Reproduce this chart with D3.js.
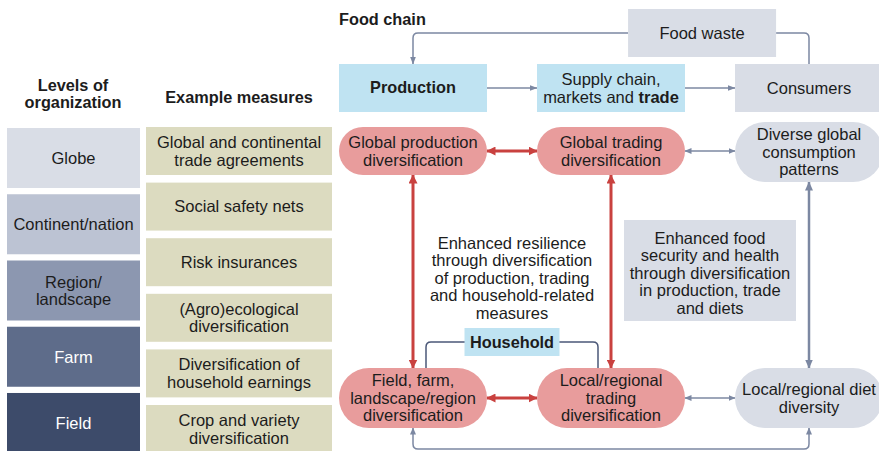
<!DOCTYPE html>
<html>
<head>
<meta charset="utf-8">
<script src="https://cdn.jsdelivr.net/npm/d3@7"></script>
<style>
  body { margin: 0; background: #fff; }
  svg { display: block; font-family: "Liberation Sans", Arial, Helvetica, sans-serif; }
</style>
</head>
<body>
<div id="chart"></div>
<script>
// Levels of organization (lines per box) and example measures
const levels = [["Globe"], ["Continent/nation"], ["Region/", "landscape"], ["Farm"], ["Field"]];
const measures = [
    ["Global and continental", "trade agreements"],
    ["Social safety nets"],
    ["Risk insurances"],
    ["(Agro)ecological", "diversification"],
    ["Diversification of", "household earnings"],
    ["Crop and variety", "diversification"]
];

// Food chain nodes: column index, row name, kind (*...* = bold)
const nodes = [
    { id: "waste", lines: ["Food waste"], col: 1.46, row: "waste", kind: "gray" },
    { id: "production", lines: ["*Production*"], col: 0, row: "chain", kind: "blue" },
    { id: "supply", lines: ["Supply chain,", "markets and *trade*"], col: 1, row: "chain", kind: "blue" },
    { id: "consumers", lines: ["Consumers"], col: 2, row: "chain", kind: "gray" },
    { id: "globalProd", lines: ["Global production", "diversification"], col: 0, row: "global", kind: "pink" },
    { id: "globalTrade", lines: ["Global trading", "diversification"], col: 1, row: "global", kind: "pink" },
    { id: "diverse", lines: ["Diverse global", "consumption", "patterns"], col: 2, row: "global", kind: "grayPill" },
    { id: "fieldFarm", lines: ["Field, farm,", "landscape/region", "diversification"], col: 0, row: "local", kind: "pink" },
    { id: "localTrade", lines: ["Local/regional", "trading", "diversification"], col: 1, row: "local", kind: "pink" },
    { id: "diet", lines: ["Local/regional diet", "diversity"], col: 2, row: "local", kind: "grayPill" }
];

// Connections between nodes
const links = [
    { source: "production", target: "supply", type: "flow" },
    { source: "supply", target: "consumers", type: "flow" },
    { source: "globalProd", target: "globalTrade", type: "red" },
    { source: "globalTrade", target: "diverse", type: "thin" },
    { source: "fieldFarm", target: "localTrade", type: "red" },
    { source: "localTrade", target: "diet", type: "thin" },
    { source: "globalProd", target: "fieldFarm", type: "red" },
    { source: "globalTrade", target: "localTrade", type: "red" },
    { source: "diverse", target: "diet", type: "grayThick" }
];

const resilienceText = ["Enhanced resilience", "through diversification", "of production, trading",
    "and household-related", "measures"];
const securityText = ["Enhanced food", "security and health", "through diversification",
    "in production, trade", "and diets"];

const width = 879, height = 451;
const svg = d3.select('#chart').append('svg')
    .attr('width', width)
    .attr('height', height);

const ink = '#1c1c1c';
const fs = 16.5, fsBold = 16.3;
const fills = { blue: '#bfe3f2', gray: '#d9dde6', grayPill: '#d9dde6', pink: '#e89c9c' };
const levelColor = d3.scaleOrdinal()
    .domain(levels.map(d => d.join('')))
    .range(['#d9dde6', '#bcc3d3', '#8c97b0', '#5e6c8a', '#3d4b6a']);
const arrowColor = { red: '#c9413f', thin: '#7c88a2', flow: '#7c88a2', grayThick: '#7c88a2' };
const arrowWidth = { red: 3, thin: 1.5, flow: 1.5, grayThick: 2.5 };

// Scales
const yLevel = d3.scaleBand().domain(d3.range(levels.length)).range([128, 453]).paddingInner(0.094);
const yMeasure = d3.scaleBand().domain(d3.range(measures.length)).range([127, 453]).paddingInner(0.137);
const xCol = d3.scaleLinear().domain([0, 1]).range([339, 537]);
const colW = 148;
const rowY = d3.scaleOrdinal().domain(['waste', 'chain', 'global', 'local']).range([33, 88, 151, 398]);
const rowH = d3.scaleOrdinal().domain(['waste', 'chain', 'global', 'local']).range([48, 48, 48, 60]);

// multi-line text, centred on (cx, cy); *word* is bold
function addText(g, lines, cx, cy, opts = {}) {
    const lh = opts.lh || 17.5;
    const t = g.append('text')
        .attr('text-anchor', opts.anchor || 'middle')
        .attr('font-size', opts.size || fs)
        .attr('font-weight', opts.bold ? 'bold' : null)
        .attr('fill', opts.color || ink);
    lines.forEach((ln, i) => {
        const row = t.append('tspan')
            .attr('x', cx)
            .attr('y', cy + (i - (lines.length - 1) / 2) * lh)
            .attr('dy', '0.35em');
        ln.split('*').forEach((seg, j) => {
            if (seg) row.append('tspan').attr('font-weight', j % 2 ? 'bold' : null).text(seg);
        });
    });
}

// Arrow markers
const defs = svg.append('defs');
const markerSpec = [
    { id: 'red', color: arrowColor.red, w: 9, h: 9 },
    { id: 'thin', color: arrowColor.thin, w: 7, h: 6 },
    { id: 'flow', color: arrowColor.flow, w: 8, h: 6 },
    { id: 'grayThick', color: arrowColor.grayThick, w: 9, h: 8 }
];
markerSpec.forEach(m => {
    defs.append('marker')
        .attr('id', 'arrow-' + m.id)
        .attr('markerUnits', 'userSpaceOnUse')
        .attr('viewBox', `0 0 ${m.w} ${m.h}`)
        .attr('refX', m.w - 0.5)
        .attr('refY', m.h / 2)
        .attr('markerWidth', m.w)
        .attr('markerHeight', m.h)
        .attr('orient', 'auto-start-reverse')
        .append('path')
        .attr('d', `M0,0L${m.w},${m.h / 2}L0,${m.h}Z`)
        .attr('fill', m.color);
});

// ---- left side: levels and measures ----
const left = svg.append('g');
addText(left, ['Levels of', 'organization'], 73, 93.5, { bold: true, size: fsBold, lh: 17 });
addText(left, ['Example measures'], 239, 97, { bold: true, size: fsBold });

levels.forEach((lv, i) => {
    left.append('rect')
        .attr('x', 7).attr('y', yLevel(i))
        .attr('width', 133).attr('height', yLevel.bandwidth())
        .attr('fill', levelColor(lv.join('')));
    addText(left, lv, 73.5, yLevel(i) + yLevel.bandwidth() / 2,
        { color: i >= 3 ? '#ffffff' : ink });
});

measures.forEach((m, i) => {
    left.append('rect')
        .attr('x', 146).attr('y', yMeasure(i))
        .attr('width', 186).attr('height', yMeasure.bandwidth())
        .attr('fill', '#dcdbc0');
    addText(left, m, 239, yMeasure(i) + yMeasure.bandwidth() / 2);
});

// ---- right side: food chain ----
const right = svg.append('g');
addText(right, ['Food chain'], 339, 19, { bold: true, size: fsBold, anchor: 'start' });

// node geometry
nodes.forEach(n => {
    n.x = xCol(n.col);
    n.w = colW;
    n.h = Math.max(rowH(n.row), n.lines.length >= 3 ? 60 : 0);
    n.cy = rowY(n.row) + (n.id === 'diverse' ? 1 : 0);
    n.y = n.cy - n.h / 2;
    n.cx = n.x + n.w / 2;
});
const byId = Object.fromEntries(nodes.map(n => [n.id, n]));

const lineLayer = right.append('g').attr('fill', 'none');

// food waste loop: consumers -> waste -> production
const waste = byId.waste, prod = byId.production, cons = byId.consumers;
const r = 5;
lineLayer.append('path')
    .attr('d', `M${waste.x},${waste.cy}H${prod.cx + r}Q${prod.cx},${waste.cy} ${prod.cx},${waste.cy + r}V${prod.y}`)
    .attr('stroke', arrowColor.flow).attr('stroke-width', 1.5)
    .attr('marker-end', 'url(#arrow-flow)');
lineLayer.append('path')
    .attr('d', `M${cons.cx},${cons.y}V${waste.cy + r}Q${cons.cx},${waste.cy} ${cons.cx - r},${waste.cy}H${waste.x + waste.w}`)
    .attr('stroke', arrowColor.flow).attr('stroke-width', 1.5);

// bottom loop: field/farm <-> diet
const ff = byId.fieldFarm, diet = byId.diet;
const yb = 449;
lineLayer.append('path')
    .attr('d', `M${ff.cx},${ff.y + ff.h}V${yb - r}Q${ff.cx},${yb} ${ff.cx + r},${yb}H${diet.cx - r}Q${diet.cx},${yb} ${diet.cx},${yb - r}V${diet.y + diet.h}`)
    .attr('stroke', arrowColor.thin).attr('stroke-width', 1.5)
    .attr('marker-start', 'url(#arrow-thin)')
    .attr('marker-end', 'url(#arrow-thin)');

// household bracket
const lt = byId.localTrade;
const hhY = 342, inset = 13;
lineLayer.append('path')
    .attr('d', `M${ff.cx + inset},${ff.y}V${hhY + r}Q${ff.cx + inset},${hhY} ${ff.cx + inset + r},${hhY}H${lt.cx - inset - r}Q${lt.cx - inset},${hhY} ${lt.cx - inset},${hhY + r}V${lt.y}`)
    .attr('stroke', '#4b5878').attr('stroke-width', 1.5);

// straight links
links.forEach(l => {
    const s = byId[l.source], t = byId[l.target];
    let x1, y1, x2, y2;
    if (s.row === t.row) {
        x1 = s.x + s.w; x2 = t.x; y1 = y2 = s.cy;
    } else {
        x1 = x2 = s.cx; y1 = s.y + s.h; y2 = t.y;
    }
    lineLayer.append('line')
        .attr('x1', x1).attr('y1', y1).attr('x2', x2).attr('y2', y2)
        .attr('stroke', arrowColor[l.type])
        .attr('stroke-width', arrowWidth[l.type])
        .attr('marker-start', l.type === 'flow' ? null : `url(#arrow-${l.type})`)
        .attr('marker-end', `url(#arrow-${l.type})`);
});

// node shapes + labels
nodes.forEach(n => {
    const pill = n.kind === 'pink' || n.kind === 'grayPill';
    right.append('rect')
        .attr('x', n.x).attr('y', n.y)
        .attr('width', n.w).attr('height', n.h)
        .attr('rx', pill ? n.h / 2 : 0)
        .attr('fill', fills[n.kind]);
    addText(right, n.lines, n.cx, n.cy + (n.id === 'production' ? -1 : 0),
        { size: n.id === 'production' ? fsBold : fs });
});

// household label
const hhX = (ff.cx + lt.cx) / 2;
right.append('rect')
    .attr('x', hhX - 47.5).attr('y', hhY - 14)
    .attr('width', 95).attr('height', 28)
    .attr('fill', fills.blue);
addText(right, ['*Household*'], hhX, hhY, { size: fsBold });

// centre texts
addText(right, resilienceText, hhX, 278);
right.append('rect')
    .attr('x', 624).attr('y', 220)
    .attr('width', 172).attr('height', 101)
    .attr('fill', fills.gray);
addText(right, securityText, 710, 273);
</script>
</body>
</html>
